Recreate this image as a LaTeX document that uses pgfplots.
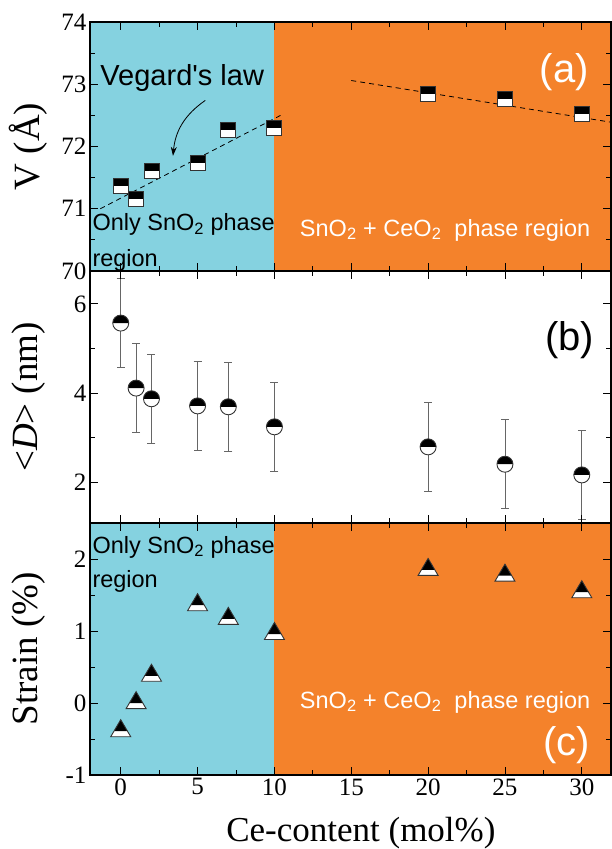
\documentclass[border=0pt]{standalone}
\usepackage{fontspec}
\setmainfont{Liberation Serif}
\newfontfamily\arial{Liberation Sans}
\usepackage{pgfplots}
\pgfplotsset{compat=1.18}
\usetikzlibrary{arrows.meta}
\definecolor{cyanbg}{RGB}{133,210,224}
\definecolor{orangebg}{RGB}{244,130,43}

\pgfdeclareplotmark{halfsq}{%
  \pgfpathrectangle{\pgfpoint{-\pgfplotmarksize}{-\pgfplotmarksize}}{\pgfpoint{2\pgfplotmarksize}{2\pgfplotmarksize}}%
  \pgfsetfillcolor{white}\pgfusepath{fill}%
  \pgfpathrectangle{\pgfpoint{-\pgfplotmarksize}{0pt}}{\pgfpoint{2\pgfplotmarksize}{\pgfplotmarksize}}%
  \pgfsetfillcolor{black}\pgfusepath{fill}%
  \pgfpathrectangle{\pgfpoint{-\pgfplotmarksize}{-\pgfplotmarksize}}{\pgfpoint{2\pgfplotmarksize}{2\pgfplotmarksize}}%
  \pgfusepath{stroke}%
}
\pgfdeclareplotmark{halfcirc}{%
  \pgfpathcircle{\pgfpointorigin}{\pgfplotmarksize}%
  \pgfsetfillcolor{white}\pgfusepath{fill}%
  \pgfpathmoveto{\pgfpoint{-\pgfplotmarksize}{0pt}}%
  \pgfpatharc{180}{0}{\pgfplotmarksize}%
  \pgfpathclose
  \pgfsetfillcolor{black}\pgfusepath{fill}%
  \pgfpathcircle{\pgfpointorigin}{\pgfplotmarksize}%
  \pgfusepath{stroke}%
}
\pgfdeclareplotmark{halftri}{%
  \pgfpathmoveto{\pgfpoint{0pt}{0.85\pgfplotmarksize}}%
  \pgfpathlineto{\pgfpoint{-\pgfplotmarksize}{-0.85\pgfplotmarksize}}%
  \pgfpathlineto{\pgfpoint{\pgfplotmarksize}{-0.85\pgfplotmarksize}}%
  \pgfpathclose
  \pgfsetfillcolor{white}\pgfusepath{fill}%
  \pgfpathmoveto{\pgfpoint{0pt}{0.85\pgfplotmarksize}}%
  \pgfpathlineto{\pgfpoint{-0.68\pgfplotmarksize}{-0.3\pgfplotmarksize}}%
  \pgfpathlineto{\pgfpoint{0.68\pgfplotmarksize}{-0.3\pgfplotmarksize}}%
  \pgfpathclose
  \pgfsetfillcolor{black}\pgfusepath{fill}%
  \pgfpathmoveto{\pgfpoint{0pt}{0.85\pgfplotmarksize}}%
  \pgfpathlineto{\pgfpoint{-\pgfplotmarksize}{-0.85\pgfplotmarksize}}%
  \pgfpathlineto{\pgfpoint{\pgfplotmarksize}{-0.85\pgfplotmarksize}}%
  \pgfpathclose
  \pgfusepath{stroke}%
}

\pgfplotsset{
  panel/.style={
    scale only axis, width=521pt,
    xmin=-2, xmax=31.9,
    xtick={0,5,...,30}, minor x tick num=1,
    tick align=inside,
    major tick length=8pt, minor tick length=5pt,
    every tick/.style={black, line width=0.9pt},
    axis line style={line width=1.1pt},
    ticklabel style={font=\fontsize{25}{27}\selectfont},
    /pgf/number format/assume math mode=true,
    label style={font=\fontsize{37}{39}\selectfont},
    ylabel style={at={(axis description cs:-0.118,0.5)}, anchor=center},
    axis on top,
    clip=true,
  },
}

\begin{document}
\begin{tikzpicture}
% ---------- (a) ----------
\begin{axis}[panel, at={(0pt,504pt)}, anchor=south west, height=249pt,
  ymin=70, ymax=74, ytick={70,71,72,73,74}, minor y tick num=1,
  xticklabels={}, ylabel={V (Å)}]
  \fill[cyanbg] (axis cs:-2,70) rectangle (axis cs:10,74);
  \fill[orangebg] (axis cs:10,70) rectangle (axis cs:31.9,74);
  \addplot[black, line width=0.8pt, dash pattern=on 5pt off 4pt] coordinates {(-1.33,71.0) (10.4,72.5)};
  \addplot[black, line width=0.8pt, dash pattern=on 5pt off 4pt] coordinates {(15,73.06) (31.9,72.39)};
  \addplot[only marks, mark=halfsq, mark size=7.5pt, mark options={line width=0.9pt, draw=black!80}] coordinates {
    (0,71.36) (1,71.16) (2,71.61) (5,71.74) (7,72.26) (10,72.29) (20,72.84) (25,72.76) (30,72.52)};
  \node[anchor=base west, inner sep=0pt, font=\arial\fontsize{29}{30}\selectfont] at (axis cs:-1.33,72.98) {Vegard's law};
  \draw[-{Stealth[length=9pt,width=6pt]}, line width=0.8pt] (axis cs:5.5,72.74) to[bend right=25] (axis cs:3.4,71.85);
  \node[anchor=base west, inner sep=0pt, font=\arial\fontsize{23.5}{25}\selectfont] at (axis cs:-1.85,70.645) {Only SnO\textsubscript{2} phase};
  \node[anchor=base west, inner sep=0pt, font=\arial\fontsize{23.5}{25}\selectfont] at (axis cs:-1.85,70.08) {region};
  \node[anchor=base west, inner sep=0pt, text=white, font=\arial\fontsize{23.5}{25}\selectfont] at (axis cs:11.65,70.56) {SnO\textsubscript{2} + CeO\textsubscript{2}\ \ phase region};
  \node[text=white, inner sep=0pt, font=\arial\fontsize{40}{42}\selectfont] at (axis cs:28.86,73.19) {(a)};
\end{axis}
% ---------- (b) ----------
\begin{axis}[panel, at={(0pt,252pt)}, anchor=south west, height=252pt,
  ymin=1.08, ymax=6.74, ytick={2,4,6}, minor ytick={3,5},
  xticklabels={}, ylabel={\textless\textit{D}\textgreater\ (nm)}]
  \addplot[only marks, mark=halfcirc, mark size=8pt, mark options={line width=0.9pt, draw=black!80},
    error bars/.cd, y dir=both, y explicit,
    error bar style={black!60, line width=0.8pt},
    error mark options={black!60, line width=0.8pt, mark size=4pt, rotate=90}]
    coordinates {
    (0,5.57) +- (0,1.0)
    (1,4.11) +- (0,1.0)
    (2,3.87) +- (0,1.0)
    (5,3.71) +- (0,1.0)
    (7,3.69) +- (0,1.0)
    (10,3.24) +- (0,1.0)
    (20,2.79) +- (0,1.0)
    (25,2.40) +- (0,1.0)
    (30,2.16) +- (0,1.0)};
  \node[inner sep=0pt, font=\arial\fontsize{40}{42}\selectfont] at (axis cs:29.2,5.19) {(b)};
\end{axis}
% ---------- (c) ----------
\begin{axis}[panel, at={(0pt,0pt)}, anchor=south west, height=252pt,
  ymin=-1, ymax=2.5, ytick={-1,0,1,2}, minor y tick num=1,
  xlabel={Ce-content (mol\%)}, ylabel={Strain (\%)},
  xlabel style={at={(axis description cs:0.52,-0.23)}, anchor=center, font=\fontsize{35}{37}\selectfont}]
  \fill[cyanbg] (axis cs:-2,-1) rectangle (axis cs:10,2.5);
  \fill[orangebg] (axis cs:10,-1) rectangle (axis cs:31.9,2.5);
  \addplot[only marks, mark=halftri, mark size=10pt, mark options={line width=0.9pt, draw=black!80}] coordinates {
    (0,-0.35) (1,0.04) (2,0.42) (5,1.40) (7,1.21) (10,1.00) (20,1.89) (25,1.81) (30,1.58)};
  \node[anchor=base west, inner sep=0pt, font=\arial\fontsize{23.5}{25}\selectfont] at (axis cs:-1.85,2.083) {Only SnO\textsubscript{2} phase};
  \node[anchor=base west, inner sep=0pt, font=\arial\fontsize{23.5}{25}\selectfont] at (axis cs:-1.85,1.6) {region};
  \node[anchor=base west, inner sep=0pt, text=white, font=\arial\fontsize{23.5}{25}\selectfont] at (axis cs:11.65,-0.07) {SnO\textsubscript{2} + CeO\textsubscript{2}\ \ phase region};
  \node[text=white, inner sep=0pt, font=\arial\fontsize{40}{42}\selectfont] at (axis cs:29.0,-0.58) {(c)};
\end{axis}
\pgfresetboundingbox
\path (-90pt,-74pt) rectangle (521pt,775pt);
\end{tikzpicture}
\end{document}
